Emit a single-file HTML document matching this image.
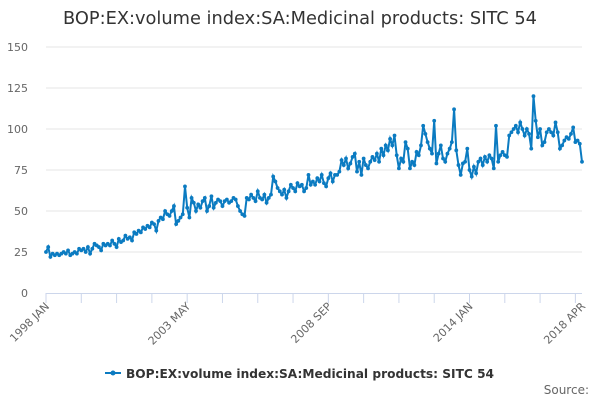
<!DOCTYPE html>
<html><head><meta charset="utf-8"><style>
body{margin:0;background:#fff;font-family:"DejaVu Sans",sans-serif}
</style></head><body>
<svg id="c" width="600" height="400" xmlns="http://www.w3.org/2000/svg" font-family="DejaVu Sans, sans-serif">
<text x="300" y="24" text-anchor="middle" font-size="17.8" fill="#333">BOP:EX:volume index:SA:Medicinal products: SITC 54</text>
<g id="grid"></g><g id="axes"></g><g id="series"></g>
<g>
<line x1="105" y1="373" x2="121" y2="373" stroke="#0b7bc1" stroke-width="2"/>
<circle cx="113" cy="373" r="2.5" fill="#0b7bc1"/>
<text x="126" y="378" font-size="12.2" font-weight="bold" fill="#333">BOP:EX:volume index:SA:Medicinal products: SITC 54</text>
</g>
<text x="589" y="394" text-anchor="end" font-size="12" fill="#666">Source:</text>
</svg>
<script>
const yTicks=[0,25,50,75,100,125,150];
const xLabels=["1998 JAN","2003 MAY","2008 SEP","2014 JAN","2018 APR"];
const xLabelIdx=[0,64,128,192,243];
const v1998=[25,28,22,24,23,24,23,24,25,24,26,23];
const v1999=[24,25,24,27,26,27,25,28,24,27,30,29];
const v2000=[28,26,30,29,30,29,32,30,28,33,31,32];
const v2001=[35,33,34,32,37,36,38,37,40,39,41,40];
const v2002=[43,42,38,44,46,45,50,48,47,50,53,42];
const v2003=[44,46,48,65,52,46,58,55,50,54,52,56];
const v2004=[58,50,53,59,52,55,57,56,53,56,57,55];
const v2005=[56,58,57,53,50,48,47,58,57,60,58,56];
const v2006=[62,58,57,60,55,58,60,71,68,64,62,60];
const v2007=[63,58,62,66,64,62,67,65,66,62,64,72];
const v2008=[66,68,66,70,68,72,67,65,70,73,68,72];
const v2009=[72,74,81,78,82,76,79,83,85,74,80,72];
const v2010=[82,78,76,80,83,81,85,80,88,84,90,87];
const v2011=[94,90,96,84,76,82,80,92,88,76,80,78];
const v2012=[86,84,90,102,97,92,88,85,105,79,85,90];
const v2013=[82,80,85,88,92,112,87,78,72,79,80,88];
const v2014=[75,71,77,73,80,82,78,83,80,84,82,76];
const v2015=[102,80,84,86,84,83,96,98,100,102,98,104];
const v2016=[100,96,100,97,88,120,105,95,100,90,92,98];
const v2017=[100,98,96,104,98,88,90,93,95,94,97,101];
const v2018=[92,93,91,80];
const values=[].concat(v1998,v1999,v2000,v2001,v2002,v2003,v2004,v2005,v2006,v2007,v2008,v2009,v2010,v2011,v2012,v2013,v2014,v2015,v2016,v2017,v2018);
const NS="http://www.w3.org/2000/svg";
const x0=46,x1=582,y0=293,y1=47;
const n=values.length;
const xs=i=>x0+(x1-x0)*i/(n-1);
const ys=v=>y0-(y0-y1)*v/150;
function mk(t,a,p){const e=document.createElementNS(NS,t);for(const k in a)e.setAttribute(k,a[k]);p.appendChild(e);return e;}
const grid=document.getElementById('grid'),axes=document.getElementById('axes'),ser=document.getElementById('series');
yTicks.forEach(t=>{
  if(t>0){const l=mk('line',{x1:x0,x2:x1,y1:ys(t),y2:ys(t),stroke:'#e6e6e6'},grid);
  
  }
  const tx=mk('text',{x:28,y:ys(t)+4,'text-anchor':'end','font-size':11,fill:'#666'},axes);
  tx.textContent=t;
  
  
});
const ax=mk('line',{x1:x0,x2:x1,y1:y0+0.5,y2:y0+0.5,stroke:'#ccd6eb'},axes);


for(let i=0;i<n;i+=16){const t=mk('line',{x1:xs(i),x2:xs(i),y1:y0,y2:y0+10,stroke:'#ccd6eb'},axes);

}
xLabels.forEach((s,k)=>{const x=xs(xLabelIdx[k]);
  const t=mk('text',{x:x+4,y:y0+14,'text-anchor':'end','font-size':11,fill:'#666',transform:`rotate(-45 ${x+4} ${y0+14})`},axes);
  t.textContent=s;
  
  });
const line=mk('path',{d:values.map((v,i)=>(i?'L':'M')+xs(i).toFixed(1)+' '+ys(v).toFixed(1)).join(''),fill:'none',stroke:'#0b7bc1','stroke-width':2},ser);


values.forEach((v,i)=>{const c=mk('circle',{cx:xs(i),cy:ys(v),r:1.9,fill:'#0b7bc1'},ser);

});
</script>
</body></html>
